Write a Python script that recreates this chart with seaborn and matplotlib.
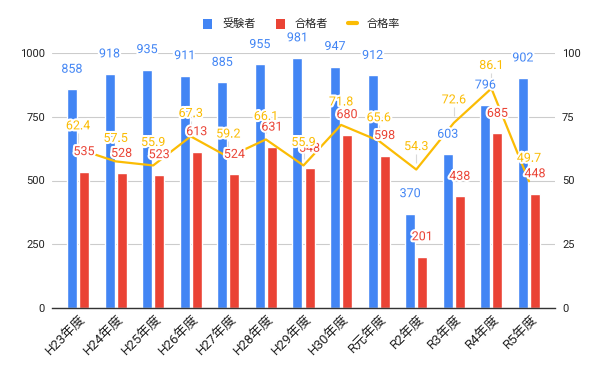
import numpy as np
import pandas as pd
import matplotlib
matplotlib.use("Agg")
import matplotlib.pyplot as plt
from matplotlib.patches import Patch
from matplotlib.lines import Line2D
from matplotlib.transforms import ScaledTranslation
import matplotlib.patheffects as pe
import seaborn as sns

categories = ["H23年度", "H24年度", "H25年度", "H26年度", "H27年度", "H28年度", "H29年度",
              "H30年度", "R元年度", "R2年度", "R3年度", "R4年度", "R5年度"]
examinees = [858, 918, 935, 911, 885, 955, 981, 947, 912, 370, 603, 796, 902]
passers = [535, 528, 523, 613, 524, 631, 548, 680, 598, 201, 438, 685, 448]
pass_rate = [62.4, 57.5, 55.9, 67.3, 59.2, 66.1, 55.9, 71.8, 65.6, 54.3, 72.6, 86.1, 49.7]
left_ticks = [0, 250, 500, 750, 1000]
right_ticks = [0, 25, 50, 75, 100]

BLUE = "#4285F4"
RED = "#EA4335"
YELLOW = "#FBBC04"
TXT = "#222222"

sns.set_theme(style="white")
plt.rcParams["font.family"] = ["Roboto", "Noto Sans CJK JP", "DejaVu Sans"]

df = pd.DataFrame({
    "cat": categories * 2,
    "value": examinees + passers,
    "series": ["受験者"] * len(categories) + ["合格者"] * len(categories),
})

fig = plt.figure(figsize=(6.0, 3.71), dpi=100)
ax = fig.add_axes([52 / 600, 1 - 308 / 371, 503 / 600, 255 / 371])

sns.barplot(data=df, x="cat", y="value", hue="series", order=categories,
            hue_order=["受験者", "合格者"], palette=[BLUE, RED],
            width=0.64, gap=0.17, saturation=1, ax=ax, legend=False, zorder=2)

ax.set_xlim(-0.692, 12.692)
ax.set_ylim(0, 1000)
ax.set_yticks(left_ticks)
ax.set_axisbelow(True)
ax.yaxis.grid(True, color="#cccccc", linewidth=0.8)
ax.xaxis.grid(False)
for s in ["top", "left", "right"]:
    ax.spines[s].set_visible(False)
ax.spines["bottom"].set_color("#333333")
ax.spines["bottom"].set_linewidth(1.0)
ax.spines["bottom"].set_zorder(5)
ax.set_xlabel("")
ax.set_ylabel("")
ax.tick_params(axis="y", length=0, pad=5, labelsize=8, labelcolor=TXT)
ax.tick_params(axis="x", length=0, pad=6.5, labelsize=9.5, labelcolor=TXT)
shift = ScaledTranslation(6 / 100, 0, fig.dpi_scale_trans)
for lab in ax.get_xticklabels():
    lab.set_rotation(45)
    lab.set_ha("right")
    lab.set_va("center")
    lab.set_rotation_mode("anchor")
    lab.set_transform(lab.get_transform() + shift)

xs = np.arange(len(categories))

# leader lines for rate labels (below bars)
ax.vlines(xs, [r * 10 + 25 for r in pass_rate], [r * 10 + 62 for r in pass_rate],
          color="#d9d9d9", linewidth=0.8, zorder=1)

ax2 = ax.twinx()
sns.lineplot(x=xs, y=pass_rate, color=YELLOW, linewidth=1.6, ax=ax2, zorder=3)
ax2.set_ylim(0, 100)
ax2.set_yticks(right_ticks)
ax2.set_xlim(-0.692, 12.692)
for s in ["top", "left", "right", "bottom"]:
    ax2.spines[s].set_visible(False)
ax2.tick_params(axis="y", length=0, pad=5, labelsize=8, labelcolor=TXT)
ax2.grid(False)
ax2.set_ylabel("")

halo = [pe.withStroke(linewidth=3, foreground="white")]
off = 0.16
for i in range(len(categories)):
    ax2.annotate(f"{examinees[i]}", xy=(xs[i] - off, examinees[i]), xycoords=ax.transData,
                 xytext=(0, 20), textcoords="offset pixels", ha="center", va="center",
                 fontsize=9, color=BLUE, path_effects=halo, zorder=6)
    ax2.annotate(f"{passers[i]}", xy=(xs[i] + off, passers[i]), xycoords=ax.transData,
                 xytext=(0, 20), textcoords="offset pixels", ha="center", va="center",
                 fontsize=9, color=RED, path_effects=halo, zorder=7)
for i in range(len(categories)):
    ax2.annotate(f"{pass_rate[i]}", xy=(xs[i], pass_rate[i]), xytext=(0, 23),
                 textcoords="offset pixels", ha="center", va="center",
                 fontsize=9, color=YELLOW, path_effects=halo, zorder=8)

handles = [
    Patch(facecolor=BLUE, edgecolor="none", label="受験者"),
    Patch(facecolor=RED, edgecolor="none", label="合格者"),
    Line2D([0], [0], color=YELLOW, linewidth=3, label="合格率"),
]
fig.legend(handles=handles, loc="center", bbox_to_anchor=(0.503, 1 - 24 / 371), ncol=3,
           frameon=False, fontsize=8, handlelength=0.8, handleheight=1.0,
           handletextpad=0.9, columnspacing=1.8, labelcolor=TXT)

fig.savefig("out.png", dpi=100)
